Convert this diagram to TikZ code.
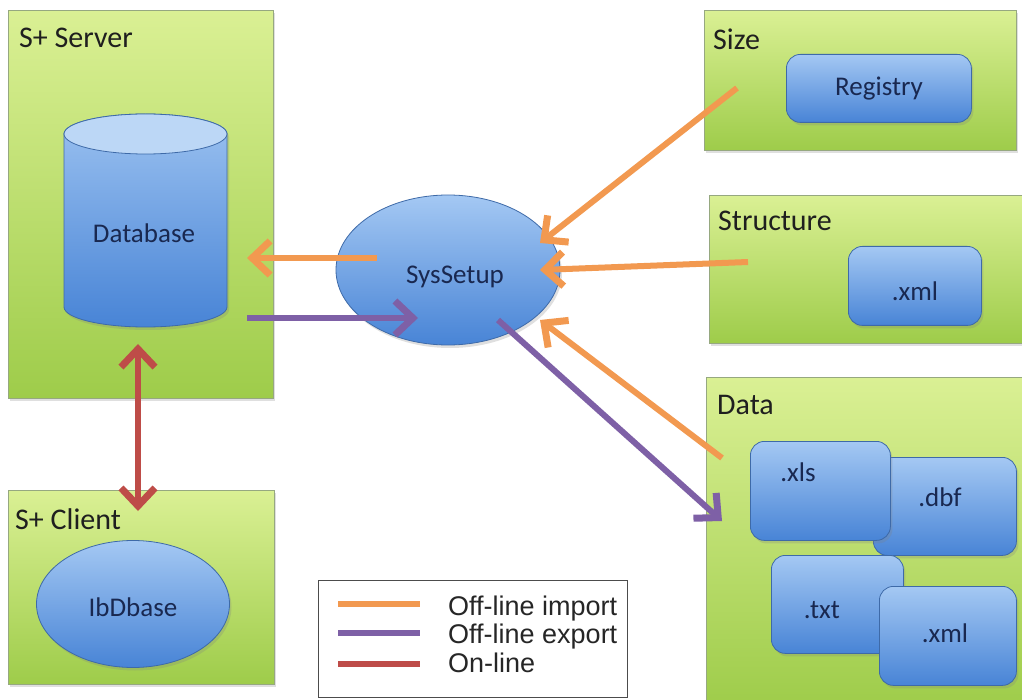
\documentclass[tikz,border=0pt]{standalone}
\usepackage{fontspec}
\setmainfont{Carlito}
\newfontfamily\arialfont{Liberation Sans}
\usetikzlibrary{arrows.meta,shadows,calc,shapes.geometric}
\definecolor{gtop}{RGB}{218,240,148}
\definecolor{gbot}{RGB}{158,204,74}
\definecolor{gborder}{RGB}{150,168,128}
\definecolor{btop}{RGB}{164,200,243}
\definecolor{bbot}{RGB}{72,132,214}
\definecolor{bborder}{RGB}{62,106,168}
\definecolor{bcap}{RGB}{188,215,246}
\definecolor{navy}{RGB}{25,40,80}
\definecolor{impc}{RGB}{242,153,80}
\definecolor{expc}{RGB}{126,96,166}
\definecolor{onlc}{RGB}{190,76,72}
\begin{document}
\begin{tikzpicture}[x=1pt,y=1pt,
  greenbox/.style={draw=gborder, line width=0.8pt, top color=gtop, bottom color=gbot,
    drop shadow={opacity=0.25,shadow xshift=2pt,shadow yshift=-3pt},
    anchor=north west, inner sep=0pt},
  bluebox/.style={draw=bborder, line width=0.8pt, top color=btop, bottom color=bbot,
    rounded corners=14pt, anchor=north west, inner sep=0pt,
    drop shadow={opacity=0.25,shadow xshift=2pt,shadow yshift=-3pt}},
  blueell/.style={ellipse, draw=bborder, line width=0.8pt, top color=btop, bottom color=bbot,
    inner sep=0pt, drop shadow={opacity=0.25,shadow xshift=2pt,shadow yshift=-3pt}},
  boxlabel/.style={font=\fontsize{30}{32}\selectfont, text=black!88, anchor=base west, inner sep=0pt},
  inlabel/.style={font=\fontsize{27}{30}\selectfont, text=navy, inner sep=0pt},
  legtext/.style={font=\arialfont\fontsize{27}{29}\selectfont, text=black!85, anchor=base west, inner sep=0pt},
  tipb/.tip={Straight Barb[length=18pt,width=34pt,line width=7pt]},
  conn/.style={line width=6pt, -tipb},
  impa/.style={conn, draw=impc},
  expa/.style={conn, draw=expc},
  onla/.style={line width=5.5pt, tipb-tipb, draw=onlc},
  legline/.style={line width=6.5pt}
]
\useasboundingbox (0,0) rectangle (1022,-700);
\fill[white] (0,0) rectangle (1022,-700);

% containers
\node[greenbox, minimum width=265pt, minimum height=388pt] (server) at (8,-10) {};
\node[greenbox, minimum width=266pt, minimum height=194pt] (client) at (8,-490) {};
\node[greenbox, minimum width=312pt, minimum height=140pt] (size) at (704,-10) {};
\node[greenbox, minimum width=321pt, minimum height=148pt] (struct) at (709,-195) {};
\node[greenbox, minimum width=324pt, minimum height=330pt] (data) at (706,-377) {};

\node[boxlabel] (serverlbl) at (19,-48) {S+ Server};
\node[boxlabel] (clientlbl) at (15,-529) {S+ Client};
\node[boxlabel] (sizelbl) at (713,-50) {Size};
\node[boxlabel] (structlbl) at (718,-231) {Structure};
\node[boxlabel] (datalbl) at (717,-414) {Data};

% database cylinder
\node[inner sep=0pt, minimum width=163pt, minimum height=213pt, anchor=north west] (db) at (64,-114) {};
\path[draw=bborder, line width=0.8pt, top color=btop!90!bbot, bottom color=bbot,
  drop shadow={opacity=0.25,shadow xshift=2pt,shadow yshift=-3pt}]
  (64,-134) -- (64,-307) arc[start angle=180,end angle=360,x radius=81.5,y radius=20]
  -- (227,-134) arc[start angle=0,end angle=180,x radius=81.5,y radius=20] -- cycle;
\draw[bborder, line width=0.8pt, fill=bcap] (145.5,-134) ellipse[x radius=81.5,y radius=20];
\node[inlabel] (dblbl) at (144,-233) {Database};

% client ellipse
\node[blueell, minimum width=193pt, minimum height=127pt] (ib) at (133,-604) {};
\node[inlabel] (iblbl) at (133,-607) {IbDbase};

% SysSetup
\node[blueell, minimum width=224pt, minimum height=150pt] (sys) at (448,-270) {};
\node[inlabel] (syslbl) at (455,-277) {SysSetup};

% right side boxes
\node[bluebox, minimum width=185pt, minimum height=68pt] (reg) at (786,-54) {};
\node[inlabel] (reglbl) at (879,-89) {Registry};
\node[bluebox, minimum width=133pt, minimum height=79pt] (sxml) at (848,-246) {};
\node[inlabel] (sxmllbl) at (915,-291) {.xml};

\node[bluebox, minimum width=143pt, minimum height=98pt] (dbf) at (873,-457) {};
\node[bluebox, minimum width=140pt, minimum height=99pt] (xls) at (750,-441) {};
\node[bluebox, minimum width=132pt, minimum height=98pt] (txt) at (771,-555) {};
\node[bluebox, minimum width=137pt, minimum height=99pt] (dxml) at (879,-586) {};
\node[inlabel] (xlslbl) at (798,-472) {.xls};
\node[inlabel] (dbflbl) at (940,-497) {.dbf};
\node[inlabel] (txtlbl) at (822,-610) {.txt};
\node[inlabel] (dxmllbl) at (945,-633) {.xml};

% connector end points
\coordinate (sysW) at (377,-258);
\coordinate (dbE) at (247,-258);
\coordinate (dbE2) at (247,-318);
\coordinate (sysW2) at (418,-318);
\coordinate (sizeT) at (737,-88);
\coordinate (sysNE) at (540,-243);
\coordinate (structT) at (748,-262);
\coordinate (sysE) at (540,-270);
\coordinate (dataT) at (722,-458);
\coordinate (sysSE) at (540,-320);
\coordinate (sysS) at (498,-320);
\coordinate (dataH) at (722,-521);
\coordinate (dbS) at (138,-344);
\coordinate (clientN) at (138,-511);

\draw[impa] (sysW) -- (dbE);
\draw[expa] (dbE2) -- (sysW2);
\draw[impa] (sizeT) -- (sysNE);
\draw[impa] (structT) -- (sysE);
\draw[impa] (dataT) -- (sysSE);
\draw[expa] (sysS) -- (dataH);
\draw[onla] (dbS) -- (clientN);

% legend
\node[draw=black!70, line width=1.2pt, fill=white, minimum width=309pt, minimum height=117pt,
  anchor=north west, inner sep=0pt] (legend) at (318,-580) {};
\draw[legline, impc] (338,-604) -- (420,-604);
\draw[legline, expc] (338,-633) -- (420,-633);
\draw[legline, onlc] (338,-664) -- (420,-664);
\node[legtext] (leg1) at (448,-615) {Off-line import};
\node[legtext] (leg2) at (448,-643) {Off-line export};
\node[legtext] (leg3) at (448,-672) {On-line};
\end{tikzpicture}
\end{document}
